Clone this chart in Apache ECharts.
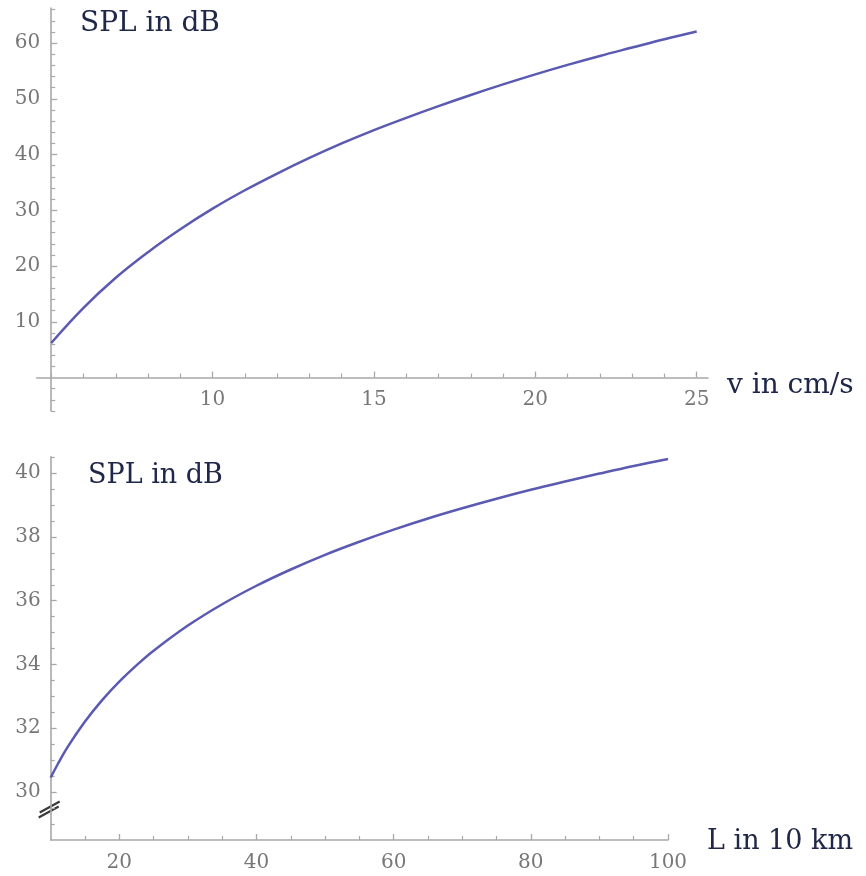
<!DOCTYPE html>
<html><head><meta charset="utf-8">
<script src="https://cdn.jsdelivr.net/npm/echarts@6/dist/echarts.min.js"></script>
<style>html,body{margin:0;padding:0;background:#fff}#c{width:866px;height:876px}</style>
</head><body><div id="c"></div>
<script>
// ---- Top chart: SPL vs flow speed ----
const vValues   = [5, 6, 7, 8, 9, 10, 11, 12, 13, 14, 15, 16, 17, 18, 19, 20, 21, 22, 23, 24, 25];
const splTop    = [6.2, 12.5, 17.9, 22.5, 26.6, 30.3, 33.6, 36.6, 39.4, 42.0, 44.4, 46.6, 48.7, 50.7, 52.6, 54.4, 56.1, 57.7, 59.2, 60.7, 62.1];
const topXTicks = [10, 15, 20, 25];
const topYTicks = [10, 20, 30, 40, 50, 60];
const topXMinor = [5, 6, 7, 8, 9, 11, 12, 13, 14, 16, 17, 18, 19, 21, 22, 23, 24];
const topYMinor = [-6, -4, -2, 2, 4, 6, 8, 12, 14, 16, 18, 22, 24, 26, 28, 32, 34, 36, 38, 42, 44, 46, 48, 52, 54, 56, 58, 62, 64, 66];

// ---- Bottom chart: SPL vs length ----
const lValues   = [10, 11, 12.5, 15, 17.5, 20, 22.5, 25, 30, 35, 40, 45, 50, 55, 60, 65, 70, 75, 80, 85, 90, 95, 100];
const splBottom = [30.45, 30.86, 31.42, 32.21, 32.88, 33.46, 33.97, 34.43, 35.22, 35.89, 36.47, 36.98, 37.44, 37.85, 38.23, 38.58, 38.90, 39.20, 39.48, 39.74, 39.99, 40.23, 40.45];
const botXTicks = [20, 40, 60, 80, 100];
const botYTicks = [30, 32, 34, 36, 38, 40];
const botXMinor = [15, 25, 30, 35, 45, 50, 55, 65, 70, 75, 85, 90, 95];
const botYMinor = [29, 29.5, 30.5, 31, 31.5, 32.5, 33, 33.5, 34.5, 35, 35.5, 36.5, 37, 37.5, 38.5, 39, 39.5, 40.5];

const titleTop = 'SPL in dB', titleBottom = 'SPL in dB';
const xNameTop = 'v in cm/s', xNameBottom = 'L in 10 km';

const FONT = '"DejaVu Serif", "Liberation Serif", serif';
const AXIS_C = '#a8a8a8', LABEL_C = '#777777', TEXT_C = '#20284a', LINE_C = '#5a5ab2';

function pair(xs, ys) { return xs.map((x, i) => [x, ys[i]]); }

function majorAxis(grid, pos, min, max, ticks, margin, extra) {
  return Object.assign({
    type: 'value', gridIndex: grid, position: pos, min: min, max: max,
    splitLine: { show: false },
    axisLine: { show: true, onZero: true, lineStyle: { color: AXIS_C, width: 1.6 } },
    axisTick: { show: true, inside: true, length: 6, customValues: ticks, lineStyle: { color: AXIS_C, width: 1.3 } },
    axisLabel: { show: true, customValues: ticks, margin: margin, color: LABEL_C, fontFamily: FONT, fontSize: 20 }
  }, extra || {});
}
function minorAxis(grid, pos, min, max, ticks, extra) {
  return Object.assign({
    type: 'value', gridIndex: grid, position: pos, min: min, max: max,
    splitLine: { show: false },
    axisLine: { show: false, onZero: true },
    axisTick: { show: true, inside: true, length: 4, customValues: ticks, lineStyle: { color: AXIS_C, width: 1.2 } },
    axisLabel: { show: false }
  }, extra || {});
}

const chart = echarts.init(document.getElementById('c'), null, { renderer: 'canvas' });

const TX = [4.55, 25.35], TY = [-6, 66.3];
const BX = [10, 100], BY = [28.49, 40.52];
const topGrid = { left: 36.7, top: 8, width: 671.3, height: 403 };
const yOffTop = -(5 - TX[0]) / (TX[1] - TX[0]) * topGrid.width;
const zeroBelow = (0 - TY[0]) / (TY[1] - TY[0]) * topGrid.height; // px between y=0 and grid bottom

const option = {
  animation: false,
  backgroundColor: '#ffffff',
  grid: [
    topGrid,
    { left: 50.7, top: 456.7, width: 617.3, height: 383.3 }
  ],
  xAxis: [
    majorAxis(0, 'bottom', TX[0], TX[1], topXTicks, 12 - zeroBelow),
    minorAxis(0, 'bottom', TX[0], TX[1], topXMinor),
    majorAxis(1, 'bottom', BX[0], BX[1], botXTicks, 13),
    minorAxis(1, 'bottom', BX[0], BX[1], botXMinor)
  ],
  yAxis: [
    majorAxis(0, 'left', TY[0], TY[1], topYTicks, 11, { offset: yOffTop }),
    minorAxis(0, 'left', TY[0], TY[1], topYMinor, { offset: yOffTop }),
    majorAxis(1, 'left', BY[0], BY[1], botYTicks, 10),
    minorAxis(1, 'left', BY[0], BY[1], botYMinor)
  ],
  series: [
    { type: 'line', xAxisIndex: 0, yAxisIndex: 0, data: pair(vValues, splTop), smooth: 0.4, showSymbol: false,
      lineStyle: { color: LINE_C, width: 2.5 } },
    { type: 'line', xAxisIndex: 2, yAxisIndex: 2, data: pair(lValues, splBottom), smooth: 0.4, showSymbol: false,
      lineStyle: { color: LINE_C, width: 2.5 } }
  ]
};
chart.setOption(option);

// decorations: titles, axis names and the axis break mark
const bp = chart.convertToPixel({ gridIndex: 1 }, [BX[0], 29.45]);
const cx = bp[0], cy = bp[1];
chart.setOption({
  graphic: [
    { type: 'text', x: 80, y: 24, style: { text: titleTop, font: '28px ' + FONT, fill: TEXT_C, verticalAlign: 'middle' } },
    { type: 'text', x: 88, y: 475.5, style: { text: titleBottom, font: '27px ' + FONT, fill: TEXT_C, verticalAlign: 'middle' } },
    { type: 'text', x: 727, y: 386, style: { text: xNameTop, font: '28px ' + FONT, fill: TEXT_C, verticalAlign: 'middle' } },
    { type: 'text', x: 707, y: 842, style: { text: xNameBottom, font: '27px ' + FONT, fill: TEXT_C, verticalAlign: 'middle' } },
    { type: 'line', shape: { x1: cx - 11, y1: cy + 3, x2: cx + 9, y2: cy - 8 }, style: { stroke: '#3a3a3a', lineWidth: 2.2 } },
    { type: 'line', shape: { x1: cx - 12, y1: cy + 8, x2: cx + 8, y2: cy - 3 }, style: { stroke: '#3a3a3a', lineWidth: 2.2 } }
  ]
});
</script>
</body></html>
